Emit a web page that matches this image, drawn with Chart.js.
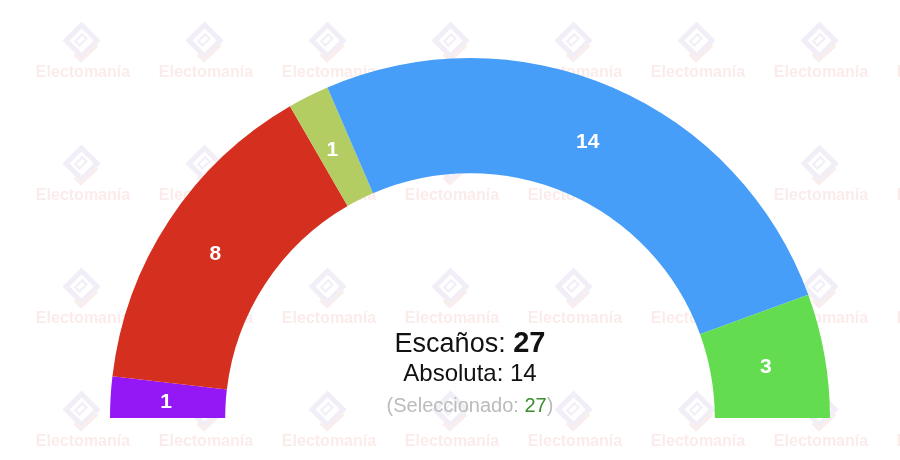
<!DOCTYPE html>
<html>
<head>
<meta charset="utf-8">
<script src="https://cdn.jsdelivr.net/npm/chart.js@4/dist/chart.umd.min.js"></script>
<style>
  html, body { margin: 0; padding: 0; background: #fff; }
  #wrap { position: relative; width: 900px; height: 460px; }
</style>
</head>
<body>
<div id="wrap"><canvas id="seats" width="900" height="460"></canvas></div>
<script>
// Datos del hemiciclo
const parties = ['A', 'B', 'C', 'D', 'E'];
const seats = [1, 8, 1, 14, 3];
const colors = ['#9418f5', '#d52f20', '#b3cd62', '#479ef8', '#64dc50'];
const totalSeats = 27;
const majority = 14;
const selected = 27;

// Marca de agua de fondo
const watermark = {
  id: 'watermark',
  beforeDraw(chart) {
    const c = chart.ctx;
    c.save();
    for (let row = 0; row < 4; row++) {
      for (let col = 0; col < 8; col++) {
        const x = 83 + col * 123;
        const y = 42 + row * 123;
        // logo
        c.save();
        c.translate(x, y);
        c.rotate(-Math.PI / 4);
        c.strokeStyle = '#f2eef7';
        c.lineWidth = 5;
        c.strokeRect(-11, -13, 22, 22);
        c.lineWidth = 2;
        c.strokeRect(-5, -6, 10, 6);
        c.restore();
        c.strokeStyle = '#f8eeee';
        c.lineWidth = 4;
        c.beginPath();
        c.moveTo(x - 8, y + 12);
        c.lineTo(x - 2, y + 18);
        c.lineTo(x + 14, y + 3);
        c.stroke();
        // texto
        c.font = 'bold 16px "Liberation Sans", Arial, sans-serif';
        c.textAlign = 'center';
        c.textBaseline = 'middle';
        c.fillStyle = '#fbeceb';
        c.fillText('Electomanía', x, y + 31);
      }
    }
    c.restore();
  }
};

// Etiquetas de escaños y texto central
const labels = {
  id: 'labels',
  afterDatasetsDraw(chart) {
    const c = chart.ctx;
    const meta = chart.getDatasetMeta(0);
    c.save();
    c.font = 'bold 21px "Liberation Sans", Arial, sans-serif';
    c.fillStyle = '#fff';
    c.textAlign = 'center';
    c.textBaseline = 'middle';
    meta.data.forEach((arc, i) => {
      const p = arc.tooltipPosition();
      c.fillText(String(seats[i]), p.x - 2, p.y + 2);
    });

    const cx = meta.data[0].x;
    const cy = meta.data[0].y;
    c.textBaseline = 'alphabetic';

    // Escaños
    const a = 'Escaños: ';
    c.font = 'bold 29px "Liberation Sans", Arial, sans-serif';
    const bw = c.measureText(String(totalSeats)).width;
    c.font = '27px "Liberation Sans", Arial, sans-serif';
    const aw = c.measureText(a).width;
    let x0 = cx - (aw + bw) / 2;
    c.textAlign = 'left';
    c.fillStyle = '#111';
    c.fillText(a, x0, cy - 66);
    c.font = 'bold 29px "Liberation Sans", Arial, sans-serif';
    c.fillText(String(totalSeats), x0 + aw, cy - 66);

    // Absoluta
    c.font = '24px "Liberation Sans", Arial, sans-serif';
    c.textAlign = 'center';
    c.fillText('Absoluta: ' + majority, cx, cy - 37);

    // Seleccionado
    c.font = '20px "Liberation Sans", Arial, sans-serif';
    const s1 = '(Seleccionado: ';
    const s2 = String(selected);
    const s3 = ')';
    const w1 = c.measureText(s1).width;
    const w2 = c.measureText(s2).width;
    const w3 = c.measureText(s3).width;
    x0 = cx - (w1 + w2 + w3) / 2;
    c.textAlign = 'left';
    c.fillStyle = '#bbb';
    c.fillText(s1, x0, cy - 6);
    c.fillStyle = '#3a8e2c';
    c.fillText(s2, x0 + w1, cy - 6);
    c.fillStyle = '#bbb';
    c.fillText(s3, x0 + w1 + w2, cy - 6);
    c.restore();
  }
};

new Chart(document.getElementById('seats').getContext('2d'), {
  type: 'doughnut',
  data: {
    labels: parties,
    datasets: [{
      data: seats,
      backgroundColor: colors,
      borderWidth: 0,
      hoverOffset: 0
    }]
  },
  options: {
    responsive: false,
    animation: false,
    rotation: -90,
    circumference: 180,
    cutout: '68%',
    layout: { padding: { left: 110, right: 70, top: 58, bottom: 42 } },
    plugins: {
      legend: { display: false },
      tooltip: { enabled: false }
    }
  },
  plugins: [watermark, labels]
});
</script>
</body>
</html>
